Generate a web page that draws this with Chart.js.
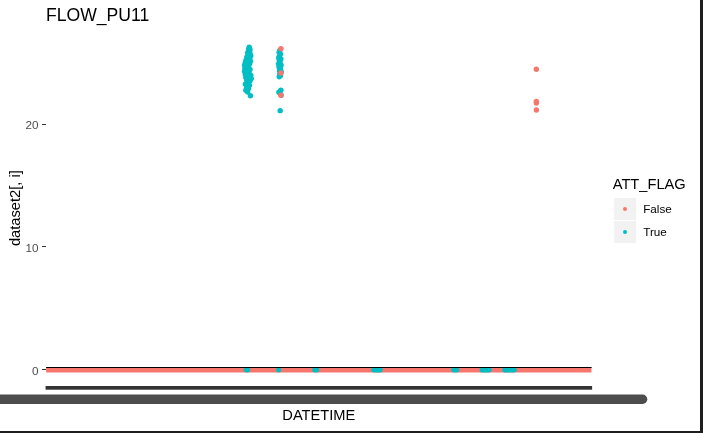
<!DOCTYPE html>
<html><head><meta charset="utf-8">
<script src="https://cdn.jsdelivr.net/npm/chart.js@4.4.1/dist/chart.umd.min.js"></script>
<style>html,body{margin:0;padding:0;background:#fff;overflow:hidden}#wrap{width:703px;height:433px;position:relative}</style>
</head><body><div id="wrap"><canvas id="c" width="703" height="433"></canvas></div>
<script>
const chartTitle = 'FLOW_PU11';
const xTitle = 'DATETIME';
const yTitle = 'dataset2[, i]';
const legendTitle = 'ATT_FLAG';
const flagLabels = ['False', 'True'];
const flagColors = ['#F8766D', '#00BFC4'];
const nObs = 4177;
const yTicks = [0, 10, 20];
// runs of consecutive observations at value 0 (start index, end index)
const falseZeroRuns = [[1, 4177]];
const trueZeroRuns = [[1533, 1543], [1781, 1783], [2058, 2072], [2510, 2558], [3122, 3144], [3339, 3392], [3512, 3584]];
// non-zero observations, ATT_FLAG = True
const trueHighX = [1556, 1551, 1562, 1555, 1544, 1562, 1548, 1568, 1537, 1554, 1561, 1531, 1547, 1565, 1526, 1541, 1558, 1520, 1534, 1551, 1523, 1544, 1562, 1520, 1537, 1555, 1526, 1548, 1568, 1530, 1554, 1572, 1537, 1562, 1544, 1527, 1558, 1537, 1551, 1530, 1544, 1565,
  1790, 1785, 1795, 1788, 1782, 1798, 1786, 1792, 1780, 1800, 1784, 1795, 1788, 1802, 1790, 1796, 1786, 1798, 1783, 1792, 1800, 1793];
const trueHighY = [26.26, 26.1, 26.05, 25.9, 25.8, 25.75, 25.6, 25.55, 25.45, 25.4, 25.3, 25.2, 25.15, 25.1, 25.0, 24.95, 24.9, 24.8, 24.75, 24.7, 24.55, 24.5, 24.45, 24.3, 24.25, 24.2, 24.05, 24.0, 23.95, 23.8, 23.75, 23.7, 23.55, 23.5, 23.35, 23.25, 23.15, 23.0, 22.9, 22.75, 22.6, 22.3,
  26.0, 25.85, 25.7, 25.55, 25.4, 25.3, 25.2, 25.05, 24.9, 24.8, 24.65, 24.5, 24.35, 24.25, 24.1, 23.95, 23.85, 22.75, 22.6, 22.5, 22.35, 21.09];
// non-zero observations, ATT_FLAG = False
const falseHighX = [1799, 1799, 1799, 3754, 3754, 3754, 3754];
const falseHighY = [26.14, 24.16, 22.34, 24.46, 21.85, 21.72, 21.15];

const FONT = "'Liberation Sans', Arial, sans-serif";
Chart.defaults.font.family = FONT;

function runsToData(runs) {
  const d = [];
  runs.forEach(r => { d.push({x: r[0], y: 0}); d.push({x: r[1], y: 0}); d.push({x: r[1], y: null}); });
  return d;
}
function pts(xs, ys) { return xs.map((x, i) => ({x: x, y: ys[i]})); }

const decor = {
  id: 'decor',
  beforeDraw(chart) {
    const ctx = chart.ctx;
    ctx.save(); ctx.fillStyle = '#fff'; ctx.fillRect(0, 0, chart.width, chart.height); ctx.restore();
  },
  afterDatasetsDraw(chart) {
    const ctx = chart.ctx;
    const xs = chart.scales.x, ys = chart.scales.y;
    const x0 = xs.getPixelForValue(1), x1 = xs.getPixelForValue(nObs);
    const y0 = ys.getPixelForValue(0);
    ctx.save();
    ctx.fillStyle = '#000';
    ctx.fillRect(x0, Math.round(y0) - 3, x1 - x0, 1);
    ctx.restore();
  },
  afterDraw(chart) {
    const ctx = chart.ctx, ca = chart.chartArea;
    const xs = chart.scales.x;
    const x0 = xs.getPixelForValue(1), x1 = xs.getPixelForValue(nObs);
    ctx.save();
    // overplotted x tick marks
    ctx.fillStyle = '#333333';
    ctx.fillRect(x0 - 0.5, ca.bottom, x1 - x0 + 1, 3.7);
    // overplotted x tick labels
    ctx.fillStyle = '#4D4D4D';
    const top = ca.bottom + 8.5, bot = ca.bottom + 18, r = (bot - top) / 2, xe = x1 + 55.7 - r;
    ctx.beginPath();
    ctx.moveTo(0, top); ctx.lineTo(xe, top);
    ctx.arc(xe, top + r, r, -Math.PI / 2, Math.PI / 2);
    ctx.lineTo(0, bot); ctx.closePath(); ctx.fill();
    // legend
    const lx = ca.right + 21;
    ctx.fillStyle = '#000';
    ctx.textBaseline = 'middle'; ctx.textAlign = 'left';
    ctx.font = '14.67px ' + FONT;
    ctx.fillText(legendTitle, lx, 184.5);
    flagLabels.forEach((lab, i) => {
      const ky = 198 + i * 23;
      ctx.fillStyle = '#F2F2F2';
      ctx.fillRect(lx + 1.5, ky, 22, 22);
      ctx.fillStyle = flagColors[i];
      ctx.beginPath(); ctx.arc(lx + 12.3, ky + 11, 2, 0, Math.PI * 2); ctx.fill();
      ctx.fillStyle = '#000';
      ctx.font = '11.7px ' + FONT;
      ctx.fillText(lab, lx + 30.5, ky + 11.5);
    });
    // window frame
    ctx.fillStyle = '#1e1e1e';
    ctx.fillRect(700, 0, 3, 433);
    ctx.fillRect(0, 431, 703, 2);
    ctx.restore();
  }
};

new Chart(document.getElementById('c'), {
  type: 'scatter',
  data: {
    datasets: [
      {type: 'scatter', label: flagLabels[0], data: pts(falseHighX, falseHighY), backgroundColor: flagColors[0], pointRadius: 2.7, pointBorderWidth: 0},
      {type: 'line', label: flagLabels[1], data: runsToData(trueZeroRuns), borderColor: flagColors[1], borderWidth: 5.2, borderCapStyle: 'round', pointRadius: 0, fill: false, spanGaps: false},
      {type: 'scatter', label: flagLabels[1], data: pts(trueHighX, trueHighY), backgroundColor: flagColors[1], pointRadius: 2.7, pointBorderWidth: 0},
      {type: 'line', label: flagLabels[0], data: runsToData(falseZeroRuns), borderColor: flagColors[0], borderWidth: 5.2, borderCapStyle: 'butt', pointRadius: 0, fill: false, spanGaps: false}
    ]
  },
  options: {
    responsive: false, animation: false, devicePixelRatio: 1, events: [],
    layout: {padding: {left: 0, right: 111.3, top: 0, bottom: 0}},
    plugins: {
      legend: {display: false}, tooltip: {enabled: false},
      title: {display: true, text: chartTitle, align: 'start', fullSize: false, color: '#000',
        font: {size: 17.6, weight: 'normal', family: FONT}, padding: {top: 6, bottom: 3.2}}
    },
    scales: {
      x: {type: 'linear', min: 0.4, max: nObs + 0.6,
        ticks: {display: false}, grid: {display: false}, border: {display: false},
        title: {display: true, text: xTitle, color: '#000', font: {size: 14.67, family: FONT}, padding: {top: 0, bottom: 8.2}},
        afterFit: s => { s.height = 47; }},
      y: {type: 'linear', min: -1.32, max: 27.63,
        afterBuildTicks: s => { s.ticks = yTicks.map(v => ({value: v})); },
        ticks: {color: '#4D4D4D', font: {size: 11.7, family: FONT}, padding: 3.5, labelOffset: 2, callback: v => String(v)},
        grid: {display: true, drawOnChartArea: false, drawTicks: true, tickLength: 4, tickColor: '#333333', color: '#333333', lineWidth: 1},
        border: {display: false},
        title: {display: true, text: yTitle, color: '#000', font: {size: 14.67, family: FONT}, padding: {top: 7, bottom: 0}},
        afterFit: s => { s.width = 46; }}
    }
  },
  plugins: [decor]
});
</script></body></html>
